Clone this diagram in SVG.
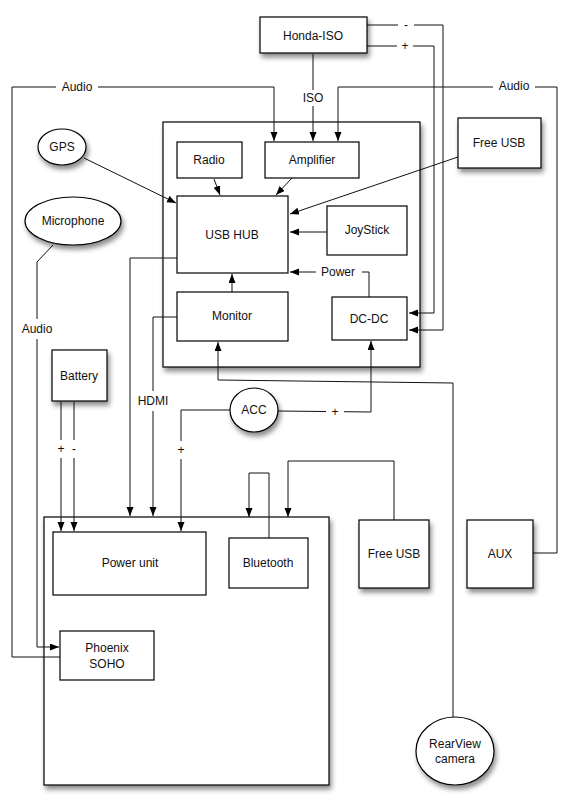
<svg xmlns="http://www.w3.org/2000/svg" width="571" height="809" viewBox="0 0 571 809">
<style>
.box{fill:#fff;stroke:#000;stroke-width:1.2}
.sh{filter:url(#shadow)}
.t{font-family:"Liberation Sans",Arial,sans-serif;font-size:12px;fill:#111;text-anchor:middle;dominant-baseline:central}
.c{fill:none;stroke:#111;stroke-width:1}
.a{marker-end:url(#arr)}
.lbl{fill:#fff;stroke:none}
</style>
<defs>
<filter id="shadow" x="-20%" y="-20%" width="150%" height="150%">
<feDropShadow dx="2" dy="4" stdDeviation="2.5" flood-color="#000" flood-opacity="0.45"/>
</filter>
<marker id="arr" markerUnits="userSpaceOnUse" markerWidth="10" markerHeight="8" refX="9" refY="3.5" orient="auto">
<path d="M0,0 L9,3.5 L0,7 z" fill="#000"/>
</marker>
</defs>
<rect width="571" height="809" fill="#fff"/>

<g id="main-box"><rect class="box sh" x="163" y="122" width="257" height="245"/></g>
<g id="bottom-box"><rect class="box sh" x="44" y="517" width="285" height="268"/></g>

<g id="connectors">
<polyline class="c a" points="60,657 12,657 12,87 274,87 274,141"/>
<polyline class="c a" points="533,553 557,553 557,87 338,87 338,141"/>
<polyline class="c a" points="313,54 313,141"/>
<polyline class="c a" points="367,25 443,25 443,330 409,330"/>
<polyline class="c a" points="367,46 434,46 434,313 409,313"/>
<polyline class="c a" points="84,158 176,203"/>
<polyline class="c a" points="458,157 290,214"/>
<polyline class="c a" points="327,232 290,232"/>
<polyline class="c a" points="369,297 369,272 290,272"/>
<polyline class="c a" points="214,179 220,195"/>
<polyline class="c a" points="292,178 276,195"/>
<polyline class="c a" points="232,292 232,274"/>
<polyline class="c a" points="177,258 130,258 130,516"/>
<polyline class="c a" points="177,317 153,317 153,516"/>
<polyline class="c a" points="61,402 61,531"/>
<polyline class="c a" points="74,402 74,531"/>
<polyline class="c a" points="230,410 181,410 181,531"/>
<polyline class="c a" points="278,411 371,412 371,341"/>
<polyline class="c a" points="453,717 453,383 218,380 218,342"/>
<polyline class="c a" points="269,538 269,473 249,473 249,517"/>
<polyline class="c a" points="394,520 394,461 288,461 288,517"/>
<polyline class="c a" points="53,245 37,262 37,647 59,647"/>
<rect class="lbl" x="56" y="80" width="42" height="14"/>
<text class="t" x="77" y="87">Audio</text>
<rect class="lbl" x="493" y="79" width="42" height="14"/>
<text class="t" x="514" y="86">Audio</text>
<rect class="lbl" x="302" y="90" width="22" height="16"/>
<text class="t" x="313" y="98">ISO</text>
<rect class="lbl" x="398" y="18" width="16" height="14"/>
<text class="t" x="406" y="25">-</text>
<rect class="lbl" x="397" y="39" width="16" height="14"/>
<text class="t" x="405" y="46">+</text>
<rect class="lbl" x="316" y="265" width="46" height="14"/>
<text class="t" x="338" y="272">Power</text>
<rect class="lbl" x="18" y="319" width="38" height="20"/>
<text class="t" x="37" y="329">Audio</text>
<rect class="lbl" x="55" y="440" width="24" height="18"/>
<text class="t" x="61" y="449">+</text>
<text class="t" x="74" y="449">-</text>
<rect class="lbl" x="136" y="391" width="34" height="20"/>
<text class="t" x="153" y="401">HDMI</text>
<rect class="lbl" x="175" y="441" width="12" height="18"/>
<text class="t" x="181" y="450">+</text>
<rect class="lbl" x="326" y="405" width="18" height="14"/>
<text class="t" x="335" y="412">+</text>
</g>

<g id="honda-iso"><rect class="box sh" x="260" y="17" width="107" height="36"/><text class="t" x="313" y="36">Honda-ISO</text></g>
<g id="radio"><rect class="box" x="177" y="142" width="65" height="36"/><text class="t" x="209" y="160">Radio</text></g>
<g id="amplifier"><rect class="box" x="265" y="142" width="94" height="36"/><text class="t" x="312" y="160">Amplifier</text></g>
<g id="usb-hub"><rect class="box" x="177" y="196" width="111" height="77"/><text class="t" x="232" y="235">USB HUB</text></g>
<g id="joystick"><rect class="box" x="327" y="206" width="80" height="49"/><text class="t" x="367" y="230">JoyStick</text></g>
<g id="monitor"><rect class="box" x="177" y="292" width="111" height="49"/><text class="t" x="232" y="316">Monitor</text></g>
<g id="dc-dc"><rect class="box" x="332" y="297" width="75" height="43"/><text class="t" x="369" y="319">DC-DC</text></g>
<g id="free-usb-top"><rect class="box sh" x="458" y="118" width="83" height="50"/><text class="t" x="499" y="143">Free USB</text></g>
<g id="gps"><ellipse class="box sh" cx="62" cy="147" rx="24" ry="18"/><text class="t" x="62" y="147">GPS</text></g>
<g id="microphone"><ellipse class="box sh" cx="73" cy="221" rx="48" ry="24"/><text class="t" x="73" y="221">Microphone</text></g>
<g id="battery"><rect class="box sh" x="52" y="350" width="55" height="51"/><text class="t" x="79" y="376">Battery</text></g>
<g id="acc"><ellipse class="box sh" cx="254" cy="410" rx="24" ry="22"/><text class="t" x="254" y="410">ACC</text></g>
<g id="power-unit"><rect class="box" x="53" y="532" width="153" height="63"/><text class="t" x="130" y="563">Power unit</text></g>
<g id="bluetooth"><rect class="box" x="229" y="538" width="79" height="50"/><text class="t" x="268" y="563">Bluetooth</text></g>
<g id="phoenix-soho"><rect class="box" x="60" y="631" width="94" height="49"/><text class="t" x="107" y="648">Phoenix</text><text class="t" x="107" y="664">SOHO</text></g>
<g id="free-usb-bottom"><rect class="box sh" x="359" y="520" width="70" height="68"/><text class="t" x="394" y="554">Free USB</text></g>
<g id="aux"><rect class="box sh" x="467" y="520" width="66" height="68"/><text class="t" x="500" y="554">AUX</text></g>
<g id="rearview-camera"><ellipse class="box sh" cx="455" cy="751" rx="39" ry="34"/><text class="t" x="455" y="744">RearView</text><text class="t" x="455" y="759">camera</text></g>
</svg>
